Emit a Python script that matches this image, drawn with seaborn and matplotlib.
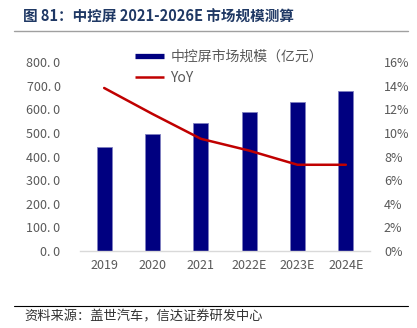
import matplotlib
matplotlib.use("Agg")
import matplotlib.pyplot as plt
import seaborn as sns
import pandas as pd
from matplotlib.lines import Line2D

sns.set_theme(style="white")
plt.rcParams['font.family'] = ['Noto Sans CJK SC', 'DejaVu Sans']

years = ["2019", "2020", "2021", "2022E", "2023E", "2024E"]
market = [442, 496, 542, 588, 630, 678]
yoy = [13.8, 11.6, 9.5, 8.5, 7.3, 7.3]
left_ticks = [0, 100, 200, 300, 400, 500, 600, 700, 800]
left_labels = ["0. 0", "100. 0", "200. 0", "300. 0", "400. 0", "500. 0", "600. 0", "700. 0", "800. 0"]
right_ticks = [0, 2, 4, 6, 8, 10, 12, 14, 16]
right_labels = [f"{t}%" for t in right_ticks]

df = pd.DataFrame({"year": years, "market": market, "yoy": yoy})

fig = plt.figure(figsize=(4.17, 3.28), dpi=100)
ax = fig.add_axes([80/417, 1-251/328, 290/417, 189/328])

sns.barplot(data=df, x="year", y="market", color="#000080", width=0.31,
            edgecolor="#8080C0", linewidth=0.6, saturation=1, ax=ax)
ax.set_xlim(-0.5, 5.5)
ax.set_ylim(0, 800)
ax.set_yticks(left_ticks)
ax.set_yticklabels(left_labels)
ax.set_xlabel("")
ax.set_ylabel("")
ax.tick_params(axis="both", length=0, labelsize=9, labelcolor="#595959")
ax.tick_params(axis="x", pad=6)
ax.tick_params(axis="y", pad=14)
for s in ["top", "right", "left"]:
    ax.spines[s].set_visible(False)
ax.spines["bottom"].set_color("#D9D9D9")
ax.spines["bottom"].set_linewidth(1)

ax2 = ax.twinx()
sns.lineplot(x=list(range(len(years))), y=yoy, color="#C00000", linewidth=1.8, ax=ax2)
ax2.set_ylim(0, 16)
ax2.set_yticks(right_ticks)
ax2.set_yticklabels(right_labels)
ax2.tick_params(axis="y", length=0, labelsize=9, labelcolor="#595959", pad=10)
for s in ["top", "right", "left", "bottom"]:
    ax2.spines[s].set_visible(False)
ax2.set_xlim(-0.5, 5.5)

handles = [Line2D([0], [0], color="#000080", linewidth=3.8, solid_capstyle="butt"),
           Line2D([0], [0], color="#C00000", linewidth=1.8, solid_capstyle="butt")]
fig.legend(handles, ["中控屏市场规模（亿元）", "YoY"], loc="upper left",
           bbox_to_anchor=(132/417, 1-47/328), frameon=False,
           prop={"size": 10, "weight": "light"},
           labelcolor="#595959", handlelength=2.1,
           handletextpad=0.45, labelspacing=0.5, borderaxespad=0, borderpad=0.2)

fig.text(23/417, 1-17/328, "图 81：中控屏 2021-2026E 市场规模测算", fontsize=10.5,
         fontweight="bold", color="#1F3864", va="center", ha="left")
fig.add_artist(Line2D([14/417, 408/417], [1-31/328, 1-31/328], color="#A0A0A0", linewidth=1))
fig.add_artist(Line2D([14/417, 408/417], [1-306/328, 1-306/328], color="black", linewidth=0.8))
fig.text(24/417, 1-317/328, "资料来源：盖世汽车，信达证券研发中心", fontsize=9.5,
         color="#333333", va="center", ha="left")

fig.savefig("out.png", dpi=100)
